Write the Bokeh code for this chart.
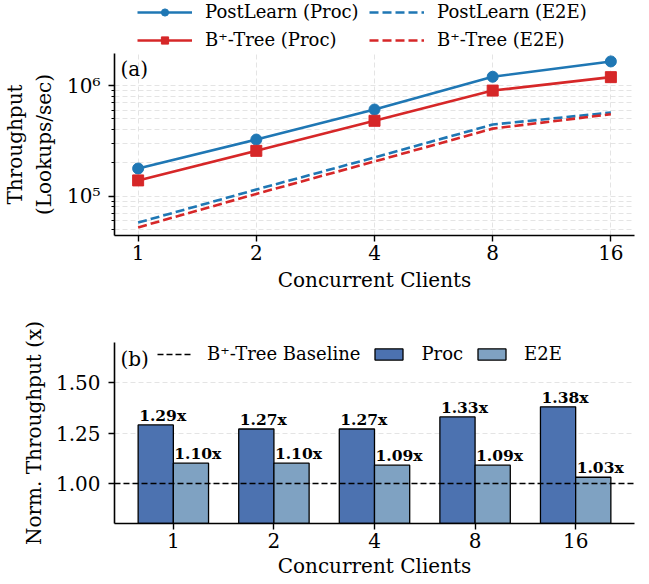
from bokeh.plotting import figure
from bokeh.models import (Legend, LegendItem, FixedTicker, Label, Range1d,
                          NumeralTickFormatter, ColumnDataSource)
from bokeh.layouts import column
from bokeh.embed import file_html
from bokeh.resources import INLINE
from bokeh.core.properties import value

# ---------------- data ----------------
clients = ["1", "2", "4", "8", "16"]
postlearn_proc = [1.78e5, 3.25e5, 6.07e5, 1.20e6, 1.65e6]
btree_proc = [1.39e5, 2.57e5, 4.80e5, 9.0e5, 1.19e6]
postlearn_e2e = [5.78e4, 1.15e5, 2.24e5, 4.44e5, 5.70e5]
btree_e2e = [5.23e4, 1.05e5, 2.06e5, 4.08e5, 5.50e5]
norm_proc = [1.29, 1.27, 1.27, 1.33, 1.38]
norm_e2e = [1.10, 1.10, 1.09, 1.09, 1.03]
baseline = 1.0
log_major = [1e5, 1e6]
log_labels = {100000: "10\u2075", 1000000: "10\u2076"}
norm_ticks = [1.0, 1.25, 1.5]

FONT = "DejaVu Serif"
BLUE = "#1f77b4"
RED = "#d62728"
PROC_C = "#4c72b0"
E2E_C = "#7fa2c2"
GRID_C = "#dddddd"

idx = list(range(len(clients)))
log_minor = [k * 10 ** e for e in (4, 5, 6) for k in range(2, 10)]

W = 644
LEFT = 114
RIGHT = 10


def style_axes(p):
    p.outline_line_color = None
    for ax in (p.xaxis[0], p.yaxis[0]):
        ax.axis_line_width = 1.6
        ax.axis_line_color = "black"
        ax.major_tick_line_width = 1.4
        ax.major_tick_out = 6
        ax.major_tick_in = 0
        ax.minor_tick_in = 0
        ax.major_label_text_font = FONT
        ax.major_label_text_font_size = "20px"
        ax.major_label_text_color = "black"
        ax.axis_label_text_font = FONT
        ax.axis_label_text_font_size = "20px"
        ax.axis_label_text_font_style = "normal"
        ax.axis_label_text_color = "black"


# ---------------- top legend strip (series drawn off-view, legend only) ----------------
p0 = figure(width=W, height=52, x_range=Range1d(100, 101), y_range=Range1d(100, 101),
            output_backend="svg", toolbar_location=None,
            x_axis_location=None, y_axis_location=None,
            min_border_left=LEFT, min_border_right=RIGHT,
            min_border_top=0, min_border_bottom=0)
p0.outline_line_color = None
p0.grid.grid_line_color = None
g_pp = p0.line(idx, postlearn_proc, color=BLUE, line_width=2.6)
g_pm = p0.scatter(idx, postlearn_proc, marker="circle", size=13, color=BLUE)
g_bp = p0.line(idx, btree_proc, color=RED, line_width=2.6)
g_bm = p0.scatter(idx, btree_proc, marker="square", size=12, color=RED)
g_pe = p0.line(idx, postlearn_e2e, color=BLUE, line_width=2.6, line_dash="9 4")
g_be = p0.line(idx, btree_e2e, color=RED, line_width=2.6, line_dash="9 4")
leg1 = Legend(items=[
    LegendItem(label="PostLearn (Proc)", renderers=[g_pp, g_pm]),
    LegendItem(label="B\u207a-Tree (Proc)", renderers=[g_bp, g_bm]),
    LegendItem(label="PostLearn (E2E)", renderers=[g_pe]),
    LegendItem(label="B\u207a-Tree (E2E)", renderers=[g_be]),
], ncols=2, location=(23, 2),
    label_text_font=FONT, label_text_font_size="18px", label_text_color="black",
    glyph_width=55, glyph_height=18, label_height=18, label_width=157,
    label_standoff=13, spacing=7, padding=0, margin=0,
    border_line_alpha=0, background_fill_alpha=0)
p0.add_layout(leg1, "center")

# ---------------- panel (a) ----------------
p1 = figure(width=W, height=243, x_range=Range1d(-0.2, 4.2),
            y_range=Range1d(4.42e4, 1.946e6), y_axis_type="log",
            output_backend="svg", toolbar_location=None,
            min_border_left=LEFT, min_border_right=RIGHT,
            min_border_top=1, min_border_bottom=60)
style_axes(p1)
p1.xaxis.ticker = FixedTicker(ticks=idx)
p1.xaxis.major_label_overrides = {i: c for i, c in zip(idx, clients)}
p1.xaxis.axis_label = "Concurrent Clients"
p1.xaxis.major_label_standoff = 3
p1.xaxis.axis_label_standoff = 5
p1.yaxis.axis_label = "Throughput\n(Lookups/sec)"
p1.yaxis.ticker = FixedTicker(ticks=log_major, minor_ticks=log_minor)
p1.yaxis.major_label_overrides = log_labels
p1.yaxis.major_label_standoff = 8
p1.yaxis.axis_label_standoff = 8
p1.yaxis.minor_tick_out = 3
p1.yaxis.minor_tick_line_width = 1.0

p1.xgrid.grid_line_color = GRID_C
p1.xgrid.grid_line_dash = "5 3"
p1.xgrid.grid_line_width = 0.8
p1.ygrid.grid_line_color = GRID_C
p1.ygrid.grid_line_dash = "5 3"
p1.ygrid.grid_line_width = 0.8
p1.ygrid.minor_grid_line_color = GRID_C
p1.ygrid.minor_grid_line_dash = "5 3"
p1.ygrid.minor_grid_line_width = 0.8

p1.line(idx, postlearn_proc, color=BLUE, line_width=2.6)
p1.scatter(idx, postlearn_proc, marker="circle", size=11, color=BLUE)
p1.line(idx, btree_proc, color=RED, line_width=2.6)
p1.scatter(idx, btree_proc, marker="square", size=11, color=RED)
p1.line(idx, postlearn_e2e, color=BLUE, line_width=2.6, line_dash="9 4")
p1.line(idx, btree_e2e, color=RED, line_width=2.6, line_dash="9 4")

p1.add_layout(Label(x=6, y=179, x_units="screen", y_units="screen",
                    text="(a)", text_baseline="top", text_font=FONT,
                    text_font_size="20px", text_color="black"))

# ---------------- panel (b) ----------------
p2 = figure(width=W, height=288, x_range=Range1d(-0.585, 4.585),
            y_range=Range1d(0.8, 1.7),
            output_backend="svg", toolbar_location=None,
            min_border_left=LEFT, min_border_right=RIGHT,
            min_border_top=47, min_border_bottom=60)
style_axes(p2)
p2.xaxis.ticker = FixedTicker(ticks=idx)
p2.xaxis.major_label_overrides = {i: c for i, c in zip(idx, clients)}
p2.xaxis.axis_label = "Concurrent Clients"
p2.xaxis.major_label_standoff = 3
p2.xaxis.axis_label_standoff = 3
p2.yaxis.axis_label = "Norm. Throughput (x)"
p2.yaxis.ticker = FixedTicker(ticks=norm_ticks)
p2.yaxis.formatter = NumeralTickFormatter(format="0.00")
p2.yaxis.major_label_standoff = 8
p2.yaxis.axis_label_standoff = 7
p2.xgrid.grid_line_color = None
p2.ygrid.grid_line_color = GRID_C
p2.ygrid.grid_line_dash = "5 3"
p2.ygrid.grid_line_width = 0.8

bw = 0.35
src = ColumnDataSource(dict(
    xp=[i - bw / 2 for i in idx], xe=[i + bw / 2 for i in idx],
    lp=[i - bw for i in idx], le=[i for i in idx],
    proc=norm_proc, e2e=norm_e2e,
    tp=[f"{v:.2f}x" for v in norm_proc], te=[f"{v:.2f}x" for v in norm_e2e]))

b_p = p2.vbar(x="xp", top="proc", bottom=0, width=bw, source=src,
              fill_color=PROC_C, line_color="black", line_width=1.3)
b_e = p2.vbar(x="xe", top="e2e", bottom=0, width=bw, source=src,
              fill_color=E2E_C, line_color="black", line_width=1.3)

base_r = p2.hspan(y=[baseline], line_color="black", line_dash="6 3", line_width=1.5)

p2.text(x="lp", y="proc", text="tp", source=src, text_font=value(FONT),
        text_font_style="bold", text_font_size="15.5px", text_align="left",
        text_baseline="bottom", x_offset=1, y_offset=0, text_color="black")
p2.text(x="le", y="e2e", text="te", source=src, text_font=value(FONT),
        text_font_style="bold", text_font_size="15.5px", text_align="left",
        text_baseline="bottom", x_offset=1, y_offset=0, text_color="black")

leg2 = Legend(items=[
    LegendItem(label="B\u207a-Tree Baseline", renderers=[base_r]),
    LegendItem(label="Proc", renderers=[b_p]),
    LegendItem(label="E2E", renderers=[b_e]),
], orientation="horizontal", location=(43, 159),
    label_text_font=FONT, label_text_font_size="18px", label_text_color="black",
    glyph_width=35, glyph_height=14, label_height=18,
    label_standoff=15, spacing=11, padding=0, margin=0,
    border_line_alpha=0, background_fill_alpha=0)
p2.add_layout(leg2, "center")

p2.add_layout(Label(x=6, y=177, x_units="screen", y_units="screen",
                    text="(b)", text_baseline="top", text_font=FONT,
                    text_font_size="20px", text_color="black"))

layout = column(p0, p1, p2, spacing=0)
open("out.html", "w").write(file_html(layout, INLINE))
